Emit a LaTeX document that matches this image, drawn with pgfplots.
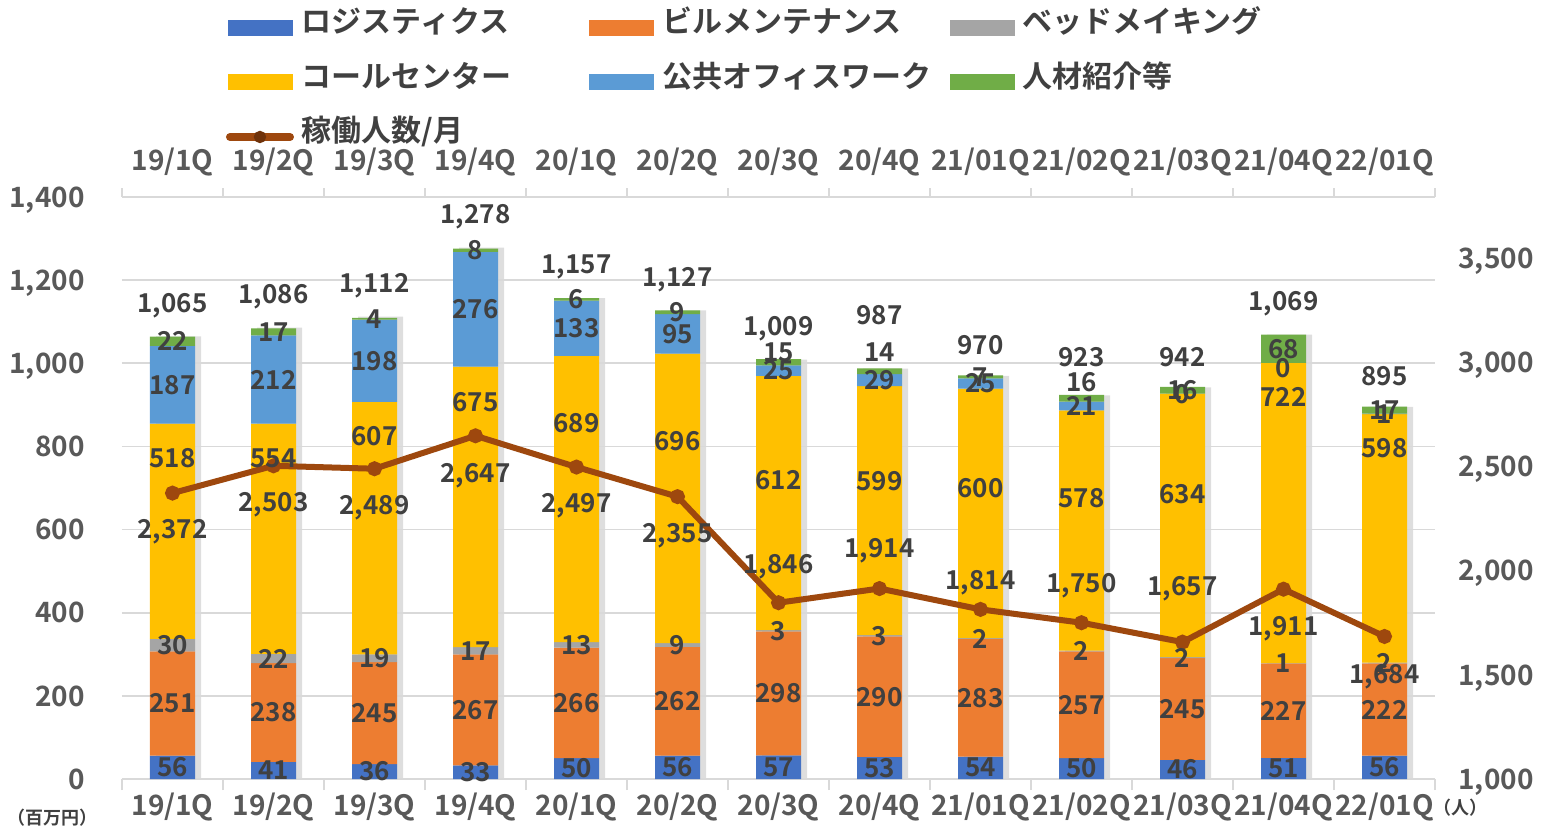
\documentclass[border=0pt]{standalone}
\usepackage{fontspec}
\setmainfont{Noto Sans CJK JP}[BoldFont=* Bold]
\usepackage{pgfplots}
\pgfplotsset{compat=1.18}
\usepackage{pgfplotstable}

\definecolor{cL}{HTML}{4472C4}
\definecolor{cB}{HTML}{ED7D31}
\definecolor{cBd}{HTML}{A5A5A5}
\definecolor{cC}{HTML}{FFC000}
\definecolor{cP}{HTML}{5B9BD5}
\definecolor{cJ}{HTML}{70AD47}
\definecolor{cN}{HTML}{9E480E}
\definecolor{txt}{HTML}{404040}
\definecolor{tickc}{HTML}{595959}
\definecolor{gridc}{HTML}{D9D9D9}

% Pp: height used only to place the label of P (a zero segment gets a hair of height)
\pgfplotstableread{
x L B Bd C P J T N lo oC oJ oP Pp to z
0 56 251 30 518 187 22 1065 2372 -19.5 36.5 0 0 187 15.5 0
1 41 238 22 554 212 17 1086 2503 -19.5 40 0 0 212 15.5 0
2 36 245 19 607 198 4 1112 2489 -19.5 46 0 0 198 15.5 0
3 33 267 17 675 276 8 1278 2647 -20 52.5 0 0 276 15.5 0
4 50 266 13 689 133 6 1157 2497 -19.5 38 0 0 133 15.5 0
5 56 262 9 696 95 9 1127 2355 -19.5 28.5 0 0 95 15.5 0
6 57 298 3 612 25 15 1009 1846 18 11.5 5 0 25 15.5 0
7 53 290 3 599 29 14 987 1914 19 15 9.5 0 29 27 0
8 54 283 2 600 25 7 970 1814 13.5 12.5 0 0 25 15.5 0
9 50 257 2 578 21 16 923 1750 18.5 16 8 0 21 19 0
10 46 245 2 634 0 16 942 1657 26.5 15.5 0 0 0.01 15 0
11 51 227 1 722 0 68 1069 1911 -20 58 0 -2.5 0.01 15.5 0
12 56 222 2 598 1 17 895 1684 -20 45 0 0 1 15.5 0
}\data

\newcommand{\labfont}{\bfseries\fontsize{13}{13}\selectfont}
\newcommand{\tickfont}{\bfseries\fontsize{14}{14}\selectfont}

\pgfplotsset{
  base/.style={scale only axis, width=656.5pt, height=291pt,
    at={(61pt,26.5pt)}, anchor=south west,
    xmin=-0.5, xmax=12.5,
    /pgf/number format/assume math mode=true},
  seg/.style={ybar stacked, fill=#1, draw=none},
  seglab/.style={ybar stacked, fill=none, draw=none,
    nodes near coords, point meta=explicit,
    visualization depends on={\thisrow{#1} \as \sego},
    every node near coord/.append style={anchor=center, text=txt, font=\labfont,
      yshift={\sego*1pt}},
    nodes near coords={\pgfmathprintnumber{\pgfplotspointmeta}}},
  cats/.style={xtick={0,...,12},
    xticklabels={19/1Q,19/2Q,19/3Q,19/4Q,20/1Q,20/2Q,20/3Q,20/4Q,21/01Q,21/02Q,21/03Q,21/04Q,22/01Q},
    major tick length=0pt, minor xtick={-0.5,0.5,...,12.5}, xtick align=outside,
    minor x tick style={draw=gridc, line width=0.8pt},
    tick label style={font=\tickfont, text=tickc}},
}

\begin{document}
\begin{tikzpicture}[x=1pt,y=1pt]
\useasboundingbox (0,0) rectangle (771.5,416);

% shadow
\begin{axis}[base, ymin=0, ymax=1400, axis lines=none, ybar, bar width=22.5pt]
\addplot[fill=black!13, draw=none, bar shift=3pt] table[x=x, y=T]{\data};
\end{axis}

% bars
\begin{axis}[base, cats, ymin=0, ymax=1400, bar width=22.5pt,
  axis x line*=bottom, axis y line*=left,
  y axis line style={draw=none}, x axis line style={draw=gridc, line width=0.8pt},
  ytick={0,200,...,1400}, ymajorgrids, grid style={draw=gridc, line width=0.8pt},
  minor tick length=5.5pt,
  xticklabel style={anchor=base, yshift=-18pt},
  yticklabel style={anchor=base east, inner xsep=0pt, xshift=-18.5pt, yshift=-5.1pt},
  ]
\addplot[seg=cL] table[x=x, y=L]{\data};
\addplot[seg=cB] table[x=x, y=B]{\data};
\addplot[seg=cBd] table[x=x, y=Bd]{\data};
\addplot[seg=cC] table[x=x, y=C]{\data};
\addplot[seg=cP] table[x=x, y=P]{\data};
\addplot[seg=cJ] table[x=x, y=J]{\data};
\end{axis}

% line
\begin{axis}[base, cats, ymin=1000, ymax=3793,
  axis x line*=top, axis y line*=right,
  y axis line style={draw=none}, x axis line style={draw=gridc, line width=0.8pt},
  minor tick length=4.5pt,
  ytick={1000,1500,...,3500},
  xticklabel style={anchor=base, yshift=13.5pt},
  yticklabel style={anchor=base west, inner xsep=0pt, xshift=11.5pt, yshift=-5.1pt},
  legend style={at={(0.0792,1.3265)}, anchor=north west, draw=none, fill=none,
    inner sep=0pt, outer sep=0pt, font=\bfseries\fontsize{15}{15}\selectfont, text=txt,
    column sep=0pt, row sep=9.25pt,
    nodes={inner xsep=2.5pt, inner ysep=2pt, text height=11pt, text depth=3pt, anchor=base west}},
  legend columns=3, legend cell align=left,
  ]
\addlegendimage{legend image code/.code={\fill[cL] (0pt,-1.2pt) rectangle (32pt,6.3pt);}}
\addlegendentry{\makebox[142.75pt][l]{\hspace{1.5pt}ロジスティクス}}
\addlegendimage{legend image code/.code={\fill[cB] (0pt,-1.2pt) rectangle (32pt,6.3pt);}}
\addlegendentry{\makebox[142.75pt][l]{\hspace{1.5pt}ビルメンテナンス}}
\addlegendimage{legend image code/.code={\fill[cBd] (0pt,-1.2pt) rectangle (32pt,6.3pt);}}
\addlegendentry{\hspace{1.5pt}ベッドメイキング}
\addlegendimage{legend image code/.code={\fill[cC] (0pt,-1.2pt) rectangle (32pt,6.3pt);}}
\addlegendentry{\makebox[142.75pt][l]{\hspace{1.5pt}コールセンター}}
\addlegendimage{legend image code/.code={\fill[cP] (0pt,-1.2pt) rectangle (32pt,6.3pt);}}
\addlegendentry{\makebox[142.75pt][l]{\hspace{1.5pt}公共オフィスワーク}}
\addlegendimage{legend image code/.code={\fill[cJ] (0pt,-1.2pt) rectangle (32pt,6.3pt);}}
\addlegendentry{\hspace{1.5pt}人材紹介等}
\addplot[cN, line width=3pt, mark=*, mark size=2.2pt, mark options={fill=cN, draw=cN},
  legend image code/.code={\draw[cN, line width=4pt, line cap=round] (1pt,2.5pt) -- (31pt,2.5pt);
     \fill[cN!70!black] (16pt,2.5pt) circle (1.5pt);},
  nodes near coords, point meta=explicit,
  visualization depends on={\thisrow{lo} \as \lo},
  every node near coord/.append style={anchor=center, text=txt, font=\labfont, yshift={\lo*1pt}},
  nodes near coords={\pgfmathprintnumber{\pgfplotspointmeta}}]
  table[x=x, y=N, meta=N]{\data};
\addlegendentry{\hspace{1.5pt}稼働人数/月}
\end{axis}

% data labels of the bars (drawn on top of everything)
\begin{axis}[base, ymin=0, ymax=1400, axis lines=none, bar width=22.5pt]
\addplot[seglab=z] table[x=x, y=L, meta=L]{\data};
\addplot[seglab=z] table[x=x, y=B, meta=B]{\data};
\addplot[seglab=z] table[x=x, y=Bd, meta=Bd]{\data};
\addplot[seglab=oC] table[x=x, y=C, meta=C]{\data};
\addplot[seglab=oP] table[x=x, y=Pp, meta=P]{\data};
\addplot[seglab=oJ] table[x=x, y=J, meta=J]{\data};
\end{axis}

% totals
\begin{axis}[base, ymin=0, ymax=1400, axis lines=none]
\addplot[draw=none, mark=none, nodes near coords, point meta=explicit,
  visualization depends on={\thisrow{to} \as \tot},
  every node near coord/.append style={anchor=center, text=txt, font=\labfont, yshift={\tot*1pt}},
  nodes near coords={\pgfmathprintnumber{\pgfplotspointmeta}}]
  table[x=x, y=T, meta=T]{\data};
\end{axis}

\node[font=\bfseries\fontsize{9}{9}\selectfont, text=txt] at (26pt,7pt) {（百万円）};
\node[font=\bfseries\fontsize{9}{9}\selectfont, text=txt] at (730pt,12pt) {（人）};
\end{tikzpicture}
\end{document}
